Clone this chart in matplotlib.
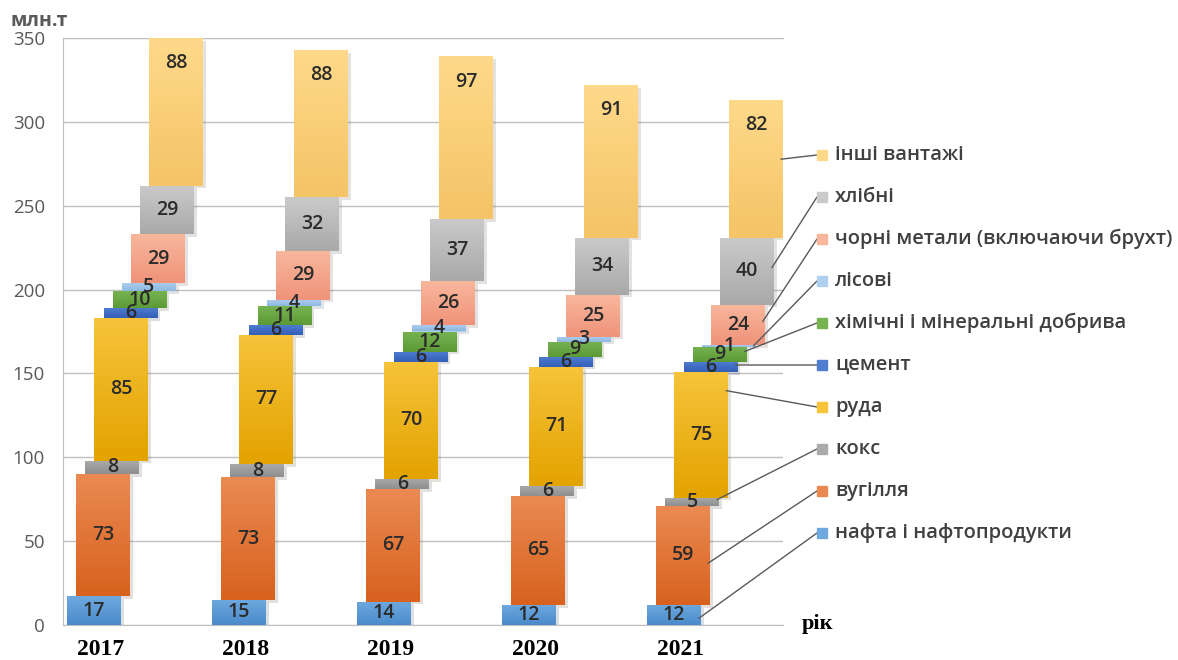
import numpy as np
import matplotlib
matplotlib.use("Agg")
import matplotlib.pyplot as plt
from matplotlib.colors import LinearSegmentedColormap
from matplotlib.patches import Rectangle
import matplotlib.patheffects as pe

# Cargo transported, mln t, stacked from the bottom up
YEARS = ["2017", "2018", "2019", "2020", "2021"]
CATEGORIES = [
    "нафта і нафтопродукти",
    "вугілля",
    "кокс",
    "руда",
    "цемент",
    "хімічні і мінеральні добрива",
    "лісові",
    "чорні метали (включаючи брухт)",
    "хлібні",
    "інші вантажі",
]
oil = [17, 15, 14, 12, 12]
coal = [73, 73, 67, 65, 59]
coke = [8, 8, 6, 6, 5]
ore = [85, 77, 70, 71, 75]
cement = [6, 6, 6, 6, 6]
fertilizers = [10, 11, 12, 9, 9]
timber = [5, 4, 4, 3, 1]
ferrous = [29, 29, 26, 25, 24]
grain = [29, 32, 37, 34, 40]
other = [88, 88, 97, 91, 82]
VALUES = [oil, coal, coke, ore, cement, fertilizers, timber, ferrous, grain, other]

# (bottom, top) gradient colours per category
COLORS = [
    ("#4B8BCB", "#6EA9DE"),
    ("#D8621E", "#EA8A52"),
    ("#8E8E8E", "#ABABAB"),
    ("#E3A300", "#F6C33A"),
    ("#345FB8", "#4F7ED0"),
    ("#5C9A35", "#78B352"),
    ("#8DB8E0", "#AFCFEE"),
    ("#EF937A", "#F8B79C"),
    ("#A9A9A9", "#CACACA"),
    ("#F4C466", "#FFD98A"),
]
# where each leader line touches the 2021 segment (fraction of its height)
ANCHOR = [0.33, 0.42, 0.75, 0.85, 0.67, 0.67, 0.5, 0.58, 0.55, 0.57]

W, H = 1178, 660
BAR_W = 0.372
STEP = 0.063

plt.rcParams["font.family"] = ["Open Sans", "DejaVu Sans"]

fig = plt.figure(figsize=(W / 100, H / 100), dpi=100)
ax = fig.add_axes([63 / W, 1 - 625 / H, 720 / W, 587 / H])

x = np.arange(len(YEARS), dtype=float)
bottoms = np.zeros(len(YEARS))
last_bars = []
grad = np.linspace(0, 1, 64).reshape(-1, 1)

for k, (vals, (c_bot, c_top)) in enumerate(zip(VALUES, COLORS)):
    vals = np.array(vals, dtype=float)
    xs = x + k * STEP
    bars = ax.bar(xs, vals, BAR_W, bottom=bottoms, color=c_top, zorder=3,
                  linewidth=0)
    cmap = LinearSegmentedColormap.from_list(f"g{k}", [c_bot, c_top])
    for bar in bars:
        bar.set_path_effects([pe.SimplePatchShadow(offset=(2, -2), alpha=0.15),
                              pe.Normal()])
        x0, y0 = bar.get_x(), bar.get_y()
        im = ax.imshow(grad, extent=[x0, x0 + bar.get_width(), y0, y0 + bar.get_height()],
                       origin="lower", cmap=cmap, aspect="auto", zorder=3.1)
        im.set_clip_path(bar)
    top_seg = k == len(VALUES) - 1
    for xi, b, v in zip(xs, bottoms, vals):
        ty = b + v - 15 if top_seg else b + v / 2
        ax.text(xi, ty, f"{v:.0f}", ha="center", va="center", fontsize=14,
                fontweight="semibold", color="#2B2B2B", zorder=5)
    last_bars.append((xs[-1], bottoms[-1], vals[-1]))
    bottoms += vals

ax.set_xlim(-0.214, 4.752)
ax.set_ylim(0, 350)
ax.set_yticks(np.arange(0, 351, 50))
ax.set_xticks(x + 0.045)
ax.set_xticklabels(YEARS, fontfamily="Liberation Serif", fontweight="bold",
                   fontsize=17, color="black")
ax.tick_params(axis="x", length=0, pad=10)
ax.tick_params(axis="y", length=0, pad=13, labelsize=13.5, labelcolor="#595959")
ax.grid(axis="y", color="#BFBFBF", lw=1, zorder=0)
ax.set_axisbelow(True)
for side in ("top", "bottom", "left"):
    ax.spines[side].set_color("#BFBFBF")
ax.spines["right"].set_visible(False)

# legend with leader lines to the 2021 column
for k, name in enumerate(CATEGORIES):
    row = 533 - k * 42
    fy = 1 - row / H
    fig.add_artist(Rectangle((817 / W, fy - 5 / H), 10 / W, 10 / H,
                             transform=fig.transFigure, color=COLORS[k][1]))
    fig.text(835 / W, fy, name, ha="left", va="center", fontsize=14.5,
             fontweight="semibold", color="#404040")
    xs_, b_, v_ = last_bars[k]
    ax.annotate("", xy=(xs_ + BAR_W / 2 - 0.015, b_ + ANCHOR[k] * v_), xycoords="data",
                xytext=(817 / W, fy), textcoords="figure fraction",
                arrowprops=dict(arrowstyle="-", color="#595959", lw=1,
                                shrinkA=0, shrinkB=0), zorder=6)

fig.text(10 / W, 1 - 21 / H, "млн.т", ha="left", va="center", fontsize=14,
         fontweight="bold", color="#595959")
fig.text(817 / W, 1 - 624 / H, "рік", ha="center", va="center",
         fontfamily="Liberation Serif", fontweight="bold", fontsize=16)

fig.savefig("out.png", dpi=100)
